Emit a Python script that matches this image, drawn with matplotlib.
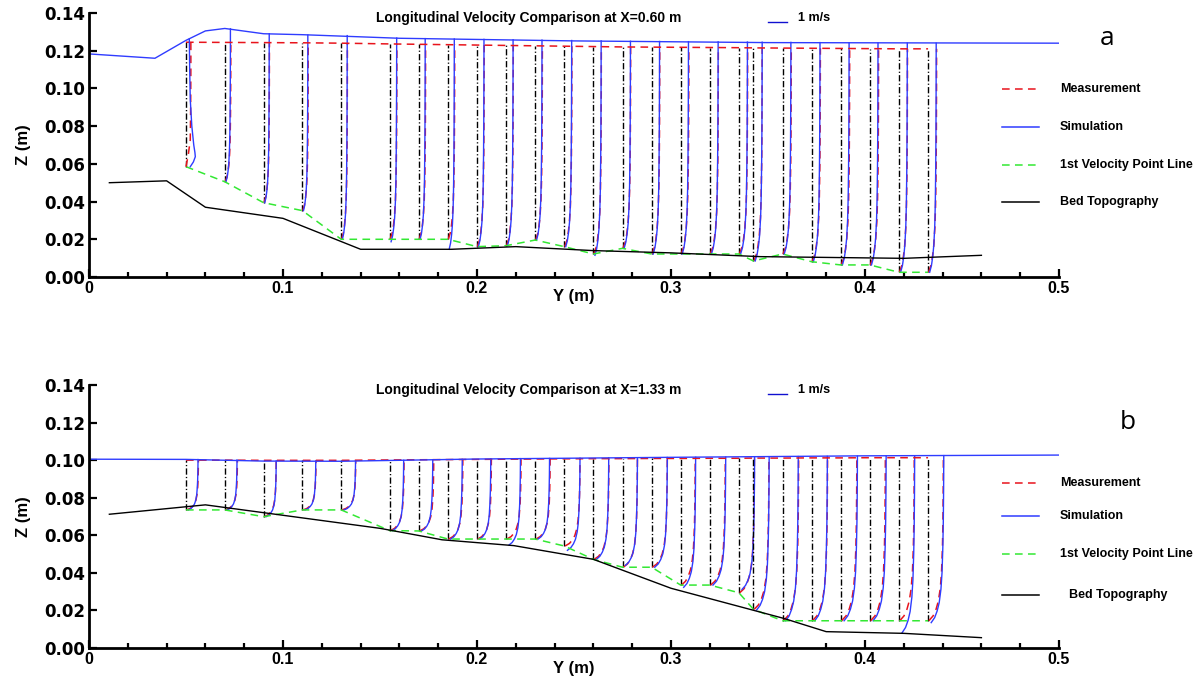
import numpy as np
import matplotlib
matplotlib.use("Agg")
import matplotlib.pyplot as plt
from matplotlib.lines import Line2D

W, H = 1196, 682
SCALE = 0.01  # metres along Y drawn for 1 m/s

RED = "#e8141c"
BLUE = "#2f3cff"
GREEN = "#33e833"

# measuring stations (same in both sections)
stations = [0.05, 0.07, 0.09, 0.11, 0.13, 0.155, 0.17, 0.185, 0.20, 0.215, 0.23, 0.245, 0.26,
            0.275, 0.29, 0.305, 0.32, 0.335, 0.3425, 0.3575, 0.3725, 0.3875, 0.4025, 0.4175, 0.4325]

# normalised profile shapes (height fraction -> velocity fraction)
shape_eta = [0.0, 0.03, 0.07, 0.12, 0.2, 0.3, 0.45, 0.6, 0.8, 1.0]
shape_sim = [0.20, 0.42, 0.58, 0.71, 0.82, 0.89, 0.94, 0.97, 0.99, 1.0]
shape_meas = [0.05, 0.33, 0.52, 0.67, 0.80, 0.88, 0.94, 0.97, 0.99, 1.0]

# ---- section a, X = 0.60 m ----
a_bottom = [0.0585, 0.0505, 0.0394, 0.0352, 0.0200, 0.0200, 0.0200, 0.0200, 0.0161, 0.0166,
            0.0196, 0.0161, 0.0122, 0.0152, 0.0122, 0.0122, 0.0122, 0.0122, 0.0085, 0.0122,
            0.0081, 0.0064, 0.0064, 0.0025, 0.0025]
a_sim_bottom = [0.0585, 0.0505, 0.0394, 0.0352, 0.0200, 0.0187, 0.0200, 0.0147, 0.0161, 0.0166,
                0.0196, 0.0161, 0.0115, 0.0152, 0.0122, 0.0122, 0.0122, 0.0122, 0.0085, 0.0122,
                0.0081, 0.0064, 0.0064, 0.0025, 0.0025]
a_meas_top = [0.1245, 0.1244, 0.1243, 0.1242, 0.1240, 0.1236, 0.1234, 0.1232, 0.1230, 0.1228,
              0.1226, 0.1224, 0.1222, 0.1220, 0.1219, 0.1218, 0.1217, 0.1216, 0.1215, 0.1214,
              0.1213, 0.1212, 0.1211, 0.1210, 0.1210]
a_sim_top = [0.1262, 0.1316, 0.1290, 0.1283, 0.1280, 0.1267, 0.1264, 0.1262, 0.1260, 0.1258,
             0.1256, 0.1254, 0.1252, 0.1250, 0.1249, 0.1248, 0.1247, 0.1246, 0.1245, 0.1244,
             0.1243, 0.1242, 0.1241, 0.1240, 0.1240]
a_u_sim = [0.17, 0.29, 0.29, 0.28, 0.31, 0.36, 0.33, 0.33, 0.36, 0.36, 0.35, 0.38, 0.40,
           0.41, 0.41, 0.40, 0.43, 0.44, 0.45, 0.43, 0.43, 0.43, 0.42, 0.43, 0.42]
a_u_meas = [0.25, 0.31, 0.30, 0.30, 0.32, 0.37, 0.35, 0.35, 0.37, 0.37, 0.37, 0.39, 0.41,
            0.42, 0.42, 0.42, 0.44, 0.45, 0.45, 0.45, 0.45, 0.46, 0.45, 0.44, 0.44]
# first station of section a has its own (bulged) profiles
a0_sim_z = [0.0585, 0.0610, 0.0638, 0.0660, 0.0700, 0.0800, 0.0940, 0.1100, 0.1262]
a0_sim_u = [0.22, 0.38, 0.48, 0.46, 0.40, 0.30, 0.22, 0.19, 0.17]
a0_meas_z = [0.0585, 0.0650, 0.0727, 0.0900, 0.1100, 0.1245]
a0_meas_u = [0.00, 0.12, 0.22, 0.24, 0.25, 0.25]
a_surf_y = [0.0, 0.034, 0.05, 0.06, 0.07, 0.09, 0.11, 0.16, 0.25, 0.35, 0.5]
a_surf_z = [0.1183, 0.1160, 0.1255, 0.1305, 0.1318, 0.1290, 0.1285, 0.1266, 0.1252, 0.1243, 0.1240]
a_bed_y = [0.0105, 0.040, 0.060, 0.100, 0.140, 0.187, 0.220, 0.260, 0.300, 0.346, 0.420, 0.460]
a_bed_z = [0.0500, 0.0510, 0.0370, 0.0311, 0.0147, 0.0147, 0.0161, 0.0140, 0.0128, 0.0108, 0.0099, 0.0115]

# ---- section b, X = 1.33 m ----
b_bottom = [0.0735, 0.0735, 0.0699, 0.0735, 0.0735, 0.0625, 0.0623, 0.0580, 0.0580, 0.0580,
            0.0580, 0.0543, 0.0472, 0.0430, 0.0430, 0.0335, 0.0335, 0.0294, 0.0206, 0.0145,
            0.0145, 0.0145, 0.0145, 0.0145, 0.0145]
b_sim_bottom = [0.0735, 0.0735, 0.0699, 0.0735, 0.0735, 0.0625, 0.0623, 0.0580, 0.0580, 0.0548,
                0.0580, 0.0520, 0.0472, 0.0440, 0.0430, 0.0323, 0.0335, 0.0312, 0.0202, 0.0145,
                0.0145, 0.0145, 0.0145, 0.0081, 0.0135]
b_meas_top = [0.1000, 0.1000, 0.0999, 0.0999, 0.0999, 0.1001, 0.1002, 0.1003, 0.1004, 0.1005,
              0.1006, 0.1007, 0.1008, 0.1008, 0.1009, 0.1009, 0.1010, 0.1010, 0.1011, 0.1011,
              0.1012, 0.1012, 0.1013, 0.1013, 0.1013]
b_sim_top = [0.1003, 0.1001, 0.0996, 0.0994, 0.0995, 0.0999, 0.1002, 0.1004, 0.1006, 0.1008,
             0.1009, 0.1010, 0.1012, 0.1013, 0.1014, 0.1015, 0.1016, 0.1017, 0.1018, 0.1019,
             0.1020, 0.1021, 0.1022, 0.1023, 0.1024]
b_u_sim = [0.62, 0.63, 0.65, 0.69, 0.74, 0.72, 0.72, 0.74, 0.71, 0.74, 0.74, 0.81, 0.79,
           0.77, 0.81, 0.77, 0.82, 0.81, 0.81, 0.81, 0.81, 0.86, 0.84, 0.81, 0.81]
b_u_meas = [0.64, 0.65, 0.65, 0.70, 0.75, 0.74, 0.77, 0.77, 0.74, 0.77, 0.77, 0.81, 0.80,
            0.77, 0.81, 0.75, 0.80, 0.80, 0.80, 0.83, 0.82, 0.83, 0.80, 0.79, 0.79]
b_surf_y = [0.0, 0.05, 0.09, 0.13, 0.2, 0.3, 0.4, 0.5]
b_surf_z = [0.1005, 0.1004, 0.0995, 0.0994, 0.1006, 0.1015, 0.1023, 0.1027]
b_bed_y = [0.0105, 0.060, 0.150, 0.182, 0.219, 0.260, 0.300, 0.358, 0.380, 0.420, 0.460]
b_bed_z = [0.0712, 0.0762, 0.0637, 0.0576, 0.0545, 0.0472, 0.0318, 0.0158, 0.0087, 0.0078, 0.0055]

x_ticks = [0.0, 0.1, 0.2, 0.3, 0.4, 0.5]
x_ticklabels = ["0", "0.1", "0.2", "0.3", "0.4", "0.5"]
z_ticks = [0.0, 0.02, 0.04, 0.06, 0.08, 0.10, 0.12, 0.14]
legend_labels = ["Measurement", "Simulation", "1st Velocity Point Line", "Bed Topography"]

RED_DASH = (5, 3.5)
GREEN_DASH = (5, 3.5)
BLACK_DASHDOT = (4.5, 1.6, 0.9, 1.6)


def fx(px):
    return px / W


def fy(py):
    return 1 - py / H


def setup_axes(ax):
    ax.set_xlim(0, 0.5)
    ax.set_ylim(0, 0.14)
    for side in ("top", "right"):
        ax.spines[side].set_visible(False)
    for side in ("left", "bottom"):
        ax.spines[side].set_linewidth(2.0)
    ax.set_xticks(x_ticks)
    ax.set_xticklabels(x_ticklabels, family="Liberation Sans", weight="bold", fontsize=11.5)
    ax.set_xticks(np.arange(0, 0.5001, 0.02), minor=True)
    ax.set_yticks(z_ticks)
    ax.set_yticklabels([f"{t:.2f}" for t in z_ticks], weight="bold", fontsize=12)
    ax.tick_params(which="both", direction="in", width=1.6)
    ax.tick_params(which="major", length=6)
    ax.tick_params(which="minor", length=3.5)
    ax.tick_params(axis="x", pad=3)
    ax.tick_params(axis="y", pad=3)


def draw_section(ax, bottom, sim_bottom, meas_top, sim_top, u_sim, u_meas,
                 surf_y, surf_z, bed_y, bed_z, skip_first=False):
    eta = np.array(shape_eta)
    for i, y in enumerate(stations):
        # zero-velocity reference line
        ax.plot([y, y], [bottom[i], meas_top[i]], color="black", lw=1.0,
                dashes=BLACK_DASHDOT)
        if skip_first and i == 0:
            continue
        zm = bottom[i] + eta * (meas_top[i] - bottom[i])
        ax.plot(y + SCALE * u_meas[i] * np.array(shape_meas), zm, color=RED, lw=1.1,
                dashes=RED_DASH)
        zs = sim_bottom[i] + eta * (sim_top[i] - sim_bottom[i])
        ax.plot(y + SCALE * u_sim[i] * np.array(shape_sim), zs, color=BLUE, lw=1.0)
    ax.plot(stations, meas_top, color=RED, lw=1.1, dashes=RED_DASH)
    ax.plot(surf_y, surf_z, color=BLUE, lw=1.0)
    ax.plot(stations, bottom, color=GREEN, lw=1.1, dashes=GREEN_DASH)
    ax.plot(bed_y, bed_z, color="black", lw=1.0)


def draw_annotations(fig, ax, title, letter, y0, legend_rows, letter_xy):
    fig.text(fx(376), fy(y0 + 18), title, family="Liberation Sans", weight="bold",
             fontsize=10, ha="left", va="center")
    # 1 m/s reference vector, drawn in data units
    ax.plot([0.35, 0.35 + SCALE * 1.0], [0.1352, 0.1352], color="#1010d0", lw=1.0,
            clip_on=False)
    fig.text(fx(798), fy(y0 + 18), "1 m/s", family="Liberation Sans", weight="bold",
             fontsize=9, ha="left", va="center")
    fig.text(fx(letter_xy[0]), fy(letter_xy[1]), letter, family="Open Sans",
             fontsize=19, ha="center", va="baseline")
    styles = [dict(color=RED, dashes=RED_DASH), dict(color=BLUE),
              dict(color=GREEN, dashes=GREEN_DASH), dict(color="black")]
    for label, style, (ry, tx) in zip(legend_labels, styles, legend_rows):
        fig.add_artist(Line2D([fx(1002), fx(1039)], [fy(ry), fy(ry)], lw=1.1, **style))
        fig.text(fx(tx), fy(ry), label, family="Liberation Sans", weight="bold",
                 fontsize=9, ha="left", va="center")
    fig.text(fx(574), fy(y0 + 296), "Y (m)", family="Liberation Sans", weight="bold",
             fontsize=12, ha="center", va="center")


fig = plt.figure(figsize=(W / 100, H / 100), dpi=100)
ax_a = fig.add_axes([fx(89), fy(277), 970 / W, 264 / H])
ax_b = fig.add_axes([fx(89), fy(648), 970 / W, 263 / H])
for ax in (ax_a, ax_b):
    setup_axes(ax)

draw_section(ax_a, a_bottom, a_sim_bottom, a_meas_top, a_sim_top, a_u_sim, a_u_meas,
             a_surf_y, a_surf_z, a_bed_y, a_bed_z, skip_first=True)
ax_a.plot(stations[0] + SCALE * np.array(a0_meas_u), a0_meas_z, color=RED, lw=1.1,
          dashes=RED_DASH)
ax_a.plot(stations[0] + SCALE * np.array(a0_sim_u), a0_sim_z, color=BLUE, lw=1.0)

draw_section(ax_b, b_bottom, b_sim_bottom, b_meas_top, b_sim_top, b_u_sim, b_u_meas,
             b_surf_y, b_surf_z, b_bed_y, b_bed_z)

draw_annotations(fig, ax_a, "Longitudinal Velocity Comparison at X=0.60 m", "a", 0,
                 [(89, 1060), (127, 1060), (165, 1060), (202, 1060)], (1107, 45))
draw_annotations(fig, ax_b, "Longitudinal Velocity Comparison at X=1.33 m", "b", 372,
                 [(483, 1060), (516, 1060), (554, 1060), (595, 1069)], (1128, 429))

for ax in (ax_a, ax_b):
    ax.set_ylabel("Z (m)", family="Liberation Sans", weight="bold", fontsize=12, labelpad=9)

fig.savefig("out.png", dpi=100)
